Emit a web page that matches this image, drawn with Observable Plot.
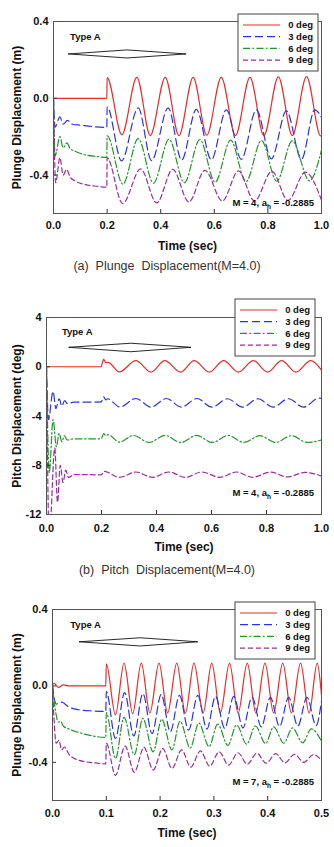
<!DOCTYPE html>
<html>
<head>
<meta charset="utf-8">
<script src="https://cdn.jsdelivr.net/npm/d3@7"></script>
<script src="https://cdn.jsdelivr.net/npm/@observablehq/plot@0.6"></script>
<style>
  body { margin: 0; background: #fff; }
  #page { position: relative; width: 334px; height: 847px; overflow: hidden; font-family: "Liberation Sans", Arial, sans-serif; }
  .panel { position: absolute; left: 0; }
  .caption { position: absolute; left: 0; width: 334px; text-align: center; font-size: 12.5px; line-height: 16px; color: #333; white-space: pre; }
</style>
</head>
<body>
<div id="page"></div>
<script>
// ---- Legend / series labels ----
const angleLabels = ["0 deg", "3 deg", "6 deg", "9 deg"];

// ---- (a) Plunge displacement (m), M = 4.0 : [time s, displacement m] ----
const plungeM4_0deg = [[0,0],[0.199,0],[0.2,0.108],[0.255,-0.19],[0.311,0.109],[0.361,-0.194],[0.417,0.109],[0.468,-0.194],[0.521,0.109],[0.572,-0.192],[0.626,0.109],[0.679,-0.194],[0.733,0.109],[0.785,-0.194],[0.839,0.112],[0.891,-0.194],[0.944,0.113],[0.997,-0.196],[1.0,-0.194]];
const plungeM4_3deg = [[0,0],[0.006,-0.15],[0.024,-0.097],[0.036,-0.135],[0.052,-0.115],[0.07,-0.135],[0.1,-0.14],[0.15,-0.148],[0.199,-0.152],[0.2,-0.045],[0.254,-0.326],[0.316,-0.05],[0.366,-0.325],[0.428,-0.05],[0.478,-0.322],[0.533,-0.058],[0.589,-0.32],[0.645,-0.06],[0.701,-0.318],[0.757,-0.06],[0.813,-0.315],[0.869,-0.065],[0.925,-0.318],[0.975,-0.06],[1.0,-0.1]];
const plungeM4_6deg = [[0,0],[0.006,-0.3],[0.024,-0.2],[0.036,-0.258],[0.05,-0.232],[0.062,-0.262],[0.08,-0.275],[0.12,-0.295],[0.16,-0.303],[0.199,-0.308],[0.2,-0.195],[0.259,-0.447],[0.316,-0.21],[0.373,-0.442],[0.431,-0.213],[0.488,-0.44],[0.546,-0.215],[0.603,-0.437],[0.661,-0.218],[0.718,-0.435],[0.776,-0.22],[0.833,-0.432],[0.891,-0.222],[0.955,-0.43],[1.0,-0.27]];
const plungeM4_9deg = [[0,0],[0.008,-0.44],[0.024,-0.31],[0.036,-0.4],[0.049,-0.37],[0.062,-0.41],[0.08,-0.43],[0.12,-0.45],[0.16,-0.458],[0.199,-0.463],[0.2,-0.31],[0.258,-0.548],[0.325,-0.368],[0.385,-0.545],[0.445,-0.37],[0.505,-0.54],[0.565,-0.375],[0.63,-0.535],[0.69,-0.378],[0.75,-0.535],[0.815,-0.38],[0.875,-0.532],[0.94,-0.385],[1.0,-0.53]];

// ---- (b) Pitch displacement (deg), M = 4.0 ----
const pitchM4_0deg = [[0,0],[0.198,0],[0.208,0.6],[0.216,0.33],[0.224,0.36],[0.265,-0.42],[0.325,0.5],[0.38,-0.43],[0.43,0.5],[0.488,-0.43],[0.537,0.5],[0.592,-0.43],[0.644,0.5],[0.698,-0.43],[0.752,0.5],[0.804,-0.43],[0.855,0.5],[0.907,-0.43],[0.961,0.5],[1.0,-0.27]];
const pitchM4_3deg = [[0,0],[0.007,-4.3],[0.024,-2.0],[0.034,-3.4],[0.046,-2.6],[0.056,-3.2],[0.066,-2.75],[0.076,-3.0],[0.1,-2.88],[0.199,-2.86],[0.208,-2.45],[0.216,-2.7],[0.222,-2.6],[0.267,-3.27],[0.325,-2.58],[0.38,-3.28],[0.436,-2.58],[0.491,-3.28],[0.547,-2.58],[0.602,-3.28],[0.658,-2.6],[0.713,-3.28],[0.769,-2.6],[0.824,-3.28],[0.88,-2.6],[0.935,-3.28],[0.991,-2.55],[1.0,-2.58]];
const pitchM4_6deg = [[0,0],[0.01,-8.6],[0.024,-4.3],[0.036,-6.5],[0.046,-5.4],[0.056,-6.1],[0.065,-5.6],[0.075,-5.95],[0.1,-5.85],[0.199,-5.85],[0.208,-5.42],[0.216,-5.6],[0.224,-5.52],[0.265,-6.12],[0.316,-5.58],[0.373,-6.15],[0.431,-5.58],[0.488,-6.15],[0.546,-5.58],[0.603,-6.15],[0.661,-5.58],[0.718,-6.15],[0.776,-5.6],[0.833,-6.15],[0.891,-5.6],[0.948,-6.15],[1.0,-5.95]];
const pitchM4_9deg = [[0,0],[0.01,-14],[0.03,-6.6],[0.04,-11],[0.05,-8.0],[0.06,-9.4],[0.07,-8.4],[0.08,-9.0],[0.1,-8.75],[0.199,-8.78],[0.21,-8.5],[0.265,-8.98],[0.325,-8.55],[0.385,-8.98],[0.445,-8.55],[0.505,-8.98],[0.565,-8.55],[0.63,-8.98],[0.69,-8.55],[0.75,-8.98],[0.815,-8.55],[0.875,-8.95],[0.94,-8.58],[1.0,-8.88]];

// ---- (c) Plunge displacement (m), M = 7.0 ----
const plungeM7_0deg = [[0,0],[0.003,0.014],[0.011,-0.008],[0.02,0.005],[0.03,0],[0.099,0],[0.1,0.115],[0.117,-0.152],[0.133,0.119],[0.149,-0.145],[0.165,0.119],[0.181,-0.142],[0.198,0.119],[0.214,-0.142],[0.231,0.119],[0.247,-0.142],[0.263,0.119],[0.28,-0.142],[0.296,0.119],[0.312,-0.142],[0.329,0.119],[0.345,-0.142],[0.362,0.119],[0.378,-0.142],[0.395,0.119],[0.411,-0.142],[0.428,0.119],[0.444,-0.142],[0.461,0.119],[0.477,-0.142],[0.492,0.119],[0.5,-0.05]];
const plungeM7_3deg = [[0,0],[0.003,-0.06],[0.007,-0.095],[0.017,-0.085],[0.03,-0.11],[0.05,-0.125],[0.075,-0.131],[0.099,-0.134],[0.1,-0.03],[0.117,-0.275],[0.134,-0.035],[0.151,-0.262],[0.168,-0.04],[0.185,-0.25],[0.202,-0.045],[0.219,-0.24],[0.236,-0.05],[0.253,-0.232],[0.27,-0.05],[0.287,-0.226],[0.303,-0.055],[0.32,-0.222],[0.337,-0.055],[0.354,-0.22],[0.371,-0.058],[0.388,-0.215],[0.405,-0.06],[0.422,-0.212],[0.439,-0.06],[0.456,-0.21],[0.473,-0.06],[0.49,-0.208],[0.5,-0.08]];
const plungeM7_6deg = [[0,0],[0.005,-0.12],[0.011,-0.19],[0.015,-0.185],[0.02,-0.21],[0.03,-0.225],[0.05,-0.245],[0.075,-0.262],[0.099,-0.27],[0.1,-0.14],[0.117,-0.38],[0.133,-0.165],[0.152,-0.36],[0.168,-0.17],[0.187,-0.345],[0.203,-0.175],[0.222,-0.335],[0.237,-0.185],[0.256,-0.325],[0.272,-0.195],[0.291,-0.318],[0.307,-0.2],[0.326,-0.312],[0.342,-0.205],[0.361,-0.305],[0.377,-0.21],[0.396,-0.302],[0.411,-0.215],[0.43,-0.3],[0.446,-0.22],[0.465,-0.298],[0.481,-0.225],[0.5,-0.29]];
const plungeM7_9deg = [[0,0],[0.007,-0.3],[0.012,-0.285],[0.017,-0.335],[0.022,-0.32],[0.031,-0.36],[0.05,-0.39],[0.075,-0.402],[0.099,-0.408],[0.1,-0.3],[0.117,-0.468],[0.135,-0.315],[0.152,-0.452],[0.17,-0.322],[0.187,-0.44],[0.205,-0.328],[0.222,-0.432],[0.24,-0.335],[0.257,-0.425],[0.275,-0.34],[0.292,-0.42],[0.31,-0.345],[0.327,-0.415],[0.345,-0.35],[0.362,-0.41],[0.38,-0.352],[0.397,-0.405],[0.415,-0.355],[0.432,-0.403],[0.45,-0.358],[0.467,-0.4],[0.485,-0.36],[0.5,-0.39]];

// ---- Tick values ----
const xTicksM4 = [0, 0.2, 0.4, 0.6, 0.8, 1.0];
const xTicksM7 = [0, 0.1, 0.2, 0.3, 0.4, 0.5];
const yTicksPlunge = [0.4, 0.0, -0.4];
const yTicksPitch = [4, 0, -4, -8, -12];

// ---- "Type A" airfoil sketch (double-wedge section), in each panel's data units ----
const airfoilM4Plunge = [[0.056,0.231],[0.274,0.252],[0.495,0.231],[0.274,0.21],[0.056,0.231]];
const airfoilM4Pitch  = [[0.082,1.58],[0.307,1.91],[0.525,1.58],[0.307,1.22],[0.082,1.58]];
const airfoilM7Plunge = [[0.05,0.231],[0.163,0.252],[0.27,0.231],[0.163,0.209],[0.05,0.231]];
const typeLabelM4Plunge = [0.062, 0.317];
const typeLabelM4Pitch  = [0.056, 2.81];
const typeLabelM7Plunge = [0.033, 0.319];

// ---- Styling ----
const FONT = "'Liberation Sans', Arial, Helvetica, sans-serif";
const colors = ["#ea2b2b", "#2a35dc", "#25962a", "#9a2e9e"];
const dashes = [null, "8,4", "7,2.5,1.5,2.5", "5,3"];

const page = document.getElementById("page");

function drawPanel(cfg) {
  const {series, xDomain, yDomain, xTicks, yTicks, xFmt, yFmt, yLabel, top, height,
         mt, mb, ml, mr, xPad, airfoil, typeLabel, legend, mach, noteUp} = cfg;
  const width = 334;
  const innerW = width - ml - mr;
  const innerH = height - mt - mb;

  const lineMarks = series.map((s, i) => Plot.line(s, {
    x: d => d[0], y: d => d[1],
    stroke: colors[i], strokeWidth: 1.2,
    strokeDasharray: dashes[i],
    curve: "monotone-x", clip: true
  }));

  const svg = Plot.plot({
    width, height,
    marginTop: mt, marginBottom: mb, marginLeft: ml, marginRight: mr,
    style: {fontFamily: FONT, background: "transparent", overflow: "visible"},
    x: {domain: xDomain, label: null},
    y: {domain: yDomain, label: null},
    marks: [
      ...lineMarks,
      Plot.line(airfoil, {x: d => d[0], y: d => d[1], stroke: "#111", strokeWidth: 0.9}),
      Plot.text([typeLabel], {x: d => d[0], y: d => d[1], text: () => "Type A",
        textAnchor: "start", fontSize: 9.5, fontWeight: "bold", fill: "#111"}),
      Plot.tickX(xTicks, {x: d => d, insetTop: innerH - 4, stroke: "#333"}),
      Plot.tickY(yTicks, {y: d => d, insetRight: innerW - 4, stroke: "#333"}),
      Plot.axisX(xTicks, {tickSize: 0, tickPadding: xPad, tickFormat: xFmt,
        fontSize: 11, fontWeight: "bold", fill: "#111", label: null}),
      Plot.axisY(yTicks, {tickSize: 0, tickPadding: 5, tickFormat: yFmt,
        fontSize: 11, fontWeight: "bold", fill: "#111", label: null}),
      Plot.text([yLabel], {frameAnchor: "left", dx: 17 - ml, rotate: -90,
        textAnchor: "middle", lineAnchor: "middle",
        fontSize: 12, fontWeight: "bold", fill: "#111"}),
      Plot.text(["Time (sec)"], {frameAnchor: "bottom", dy: 32.5,
        textAnchor: "middle", lineAnchor: "middle",
        fontSize: 12, fontWeight: "bold", fill: "#111"}),
      Plot.frame({stroke: "#555", strokeWidth: 1})
    ]
  });

  const root = d3.select(svg);
  // Legend box, placed relative to the top-right corner of the frame
  const lw = 80, lh = 57;
  const lx = width - mr - legend.right - lw;
  const ly = mt + legend.top;
  const g = root.append("g").attr("transform", `translate(${lx},${ly})`);
  g.append("rect").attr("width", lw).attr("height", lh)
    .attr("fill", "#fff").attr("stroke", "#444").attr("stroke-width", 1);
  angleLabels.forEach((lab, i) => {
    const y = 11 + i * 11.7;
    g.append("line").attr("x1", 5).attr("x2", 42).attr("y1", y).attr("y2", y)
      .attr("stroke", colors[i]).attr("stroke-width", 1.2)
      .attr("stroke-dasharray", dashes[i]);
    g.append("text").attr("x", 75).attr("y", y).attr("dy", "0.35em")
      .attr("text-anchor", "end").attr("font-size", 9.5).attr("font-weight", "bold")
      .attr("font-family", FONT).attr("fill", "#111").text(lab);
  });

  // Flow condition note
  const note = root.append("text")
    .attr("x", width - mr - 7).attr("y", height - mb - noteUp)
    .attr("text-anchor", "end").attr("font-size", 9.5).attr("font-weight", "bold")
    .attr("font-family", FONT).attr("fill", "#111");
  note.append("tspan").text(`M = ${mach}, a`);
  note.append("tspan").attr("font-size", 6.5).attr("dy", 2.5).text("h");
  note.append("tspan").attr("dy", -2.5).text(" = -0.2885");

  const holder = document.createElement("div");
  holder.className = "panel";
  holder.style.top = top + "px";
  holder.appendChild(svg);
  page.appendChild(holder);
}

function caption(text, top) {
  const d = document.createElement("div");
  d.className = "caption";
  d.style.top = top + "px";
  d.textContent = text;
  page.appendChild(d);
}

const f1 = d => d.toFixed(1);
const f0 = d => String(d);

drawPanel({
  series: [plungeM4_0deg, plungeM4_3deg, plungeM4_6deg, plungeM4_9deg],
  xDomain: [0, 1], yDomain: [-0.6, 0.4], xTicks: xTicksM4, yTicks: yTicksPlunge,
  xFmt: f1, yFmt: f1, yLabel: "Plunge Displacement (m)",
  top: 0, height: 256, mt: 21, mb: 43, ml: 53, mr: 13, xPad: 8,
  airfoil: airfoilM4Plunge, typeLabel: typeLabelM4Plunge,
  legend: {right: 3, top: -7}, mach: 4, noteUp: 7
});
caption("(a)  Plunge  Displacement(M=4.0)", 258);

drawPanel({
  series: [pitchM4_0deg, pitchM4_3deg, pitchM4_6deg, pitchM4_9deg],
  xDomain: [0, 1], yDomain: [-12, 4], xTicks: xTicksM4, yTicks: yTicksPitch,
  xFmt: f1, yFmt: f0, yLabel: "Pitch Displacement (deg)",
  top: 290, height: 266, mt: 27, mb: 42, ml: 46, mr: 13, xPad: 10,
  airfoil: airfoilM4Pitch, typeLabel: typeLabelM4Pitch,
  legend: {right: 6, top: -18}, mach: 4, noteUp: 18
});
caption("(b)  Pitch  Displacement(M=4.0)", 562);

drawPanel({
  series: [plungeM7_0deg, plungeM7_3deg, plungeM7_6deg, plungeM7_9deg],
  xDomain: [0, 0.5], yDomain: [-0.6, 0.4], xTicks: xTicksM7, yTicks: yTicksPlunge,
  xFmt: f1, yFmt: f1, yLabel: "Plunge Displacement (m)",
  top: 580, height: 267, mt: 29, mb: 47, ml: 52, mr: 13, xPad: 9,
  airfoil: airfoilM7Plunge, typeLabel: typeLabelM7Plunge,
  legend: {right: 6, top: -7}, mach: 7, noteUp: 15
});
</script>
</body>
</html>
